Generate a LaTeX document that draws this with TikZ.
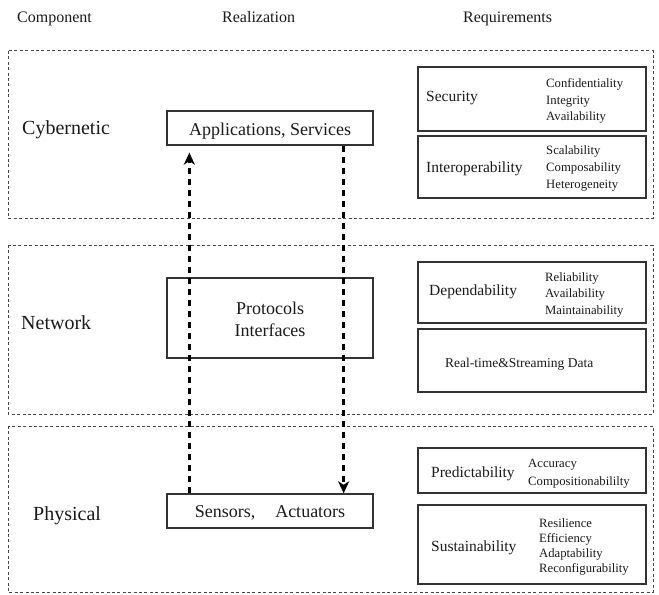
\documentclass[tikz,border=0pt]{standalone}
\usepackage{fontspec}
\setmainfont{Liberation Serif}
\usetikzlibrary{arrows.meta}
\definecolor{ink}{HTML}{1A1A1A}
\definecolor{rim}{HTML}{333333}
\begin{document}
\begin{tikzpicture}[x=1bp,y=-1bp,
  region/.style={draw=rim!90, line width=1bp, dash pattern=on 3bp off 2.4bp},
  box/.style={draw=rim, line width=1.3bp, rectangle, inner sep=0pt},
  reqbox/.style={box, minimum width=228bp},
  flow/.style={draw=black, line width=2.6bp, dash pattern=on 6bp off 5bp,
     -{Stealth[length=12bp,width=11bp,inset=3.5bp]}},
  txt/.style={anchor=base west, inner sep=0pt, text=ink},
  ctxt/.style={anchor=base, inner sep=0pt, text=ink, align=center},
  head/.style={txt, font=\fontsize{16bp}{19bp}\selectfont},
  layer/.style={txt, font=\fontsize{20bp}{24bp}\selectfont},
  real/.style={ctxt, font=\fontsize{18bp}{22bp}\selectfont},
  lab/.style={txt, font=\fontsize{15.5bp}{18bp}\selectfont},
  sub/.style={txt, font=\fontsize{12.7bp}{15bp}\selectfont}
]
\useasboundingbox (0,0) rectangle (659,595);

% headers
\node[head] (hcomp) at (17,23) {Component};
\node[head] (hreal) at (222,23) {Realization};
\node[head] (hreq)  at (463,23) {Requirements};

% layer regions
\draw[region] (8,51) rectangle (653,218);
\draw[region] (8,245) rectangle (653,414);
\draw[region] (8,426) rectangle (653,592);

% layer names
\node[layer] (lcyb) at (22,135) {Cybernetic};
\node[layer] (lnet) at (21,329) {Network};
\node[layer] (lphy) at (33,520) {Physical};

% realization boxes
\node[box, minimum width=206bp, minimum height=34bp] (apps) at (270,128) {};
\node[real] (appst) at (270,136) {Applications, Services};
\node[box, minimum width=206bp, minimum height=80bp] (proto) at (270,318) {};
\node[real] (protot1) at (270,314) {Protocols};
\node[real] (protot2) at (270,336) {Interfaces};
\node[box, minimum width=206bp, minimum height=34bp] (sensors) at (270,511) {};
\node[real] (sensorst) at (270,517) {Sensors,\hspace{20bp}Actuators};

% connectors
\draw[flow, shorten >=7bp] ([xshift=23bp]sensors.north west) -- ([xshift=23bp]apps.south west);
\draw[flow] ([xshift=-30bp]apps.south east) -- ([xshift=-30bp]sensors.north east);

% requirement boxes
\node[reqbox, minimum height=64bp] (sec) at (532,99) {};
\node[lab] at (426,102) {Security};
\foreach \t [count=\i] in {Confidentiality,Integrity,Availability}
  \node[sub] at (546,{88+16.5*(\i-1)}) {\t};

\node[reqbox, minimum height=62bp] (inter) at (532,167) {};
\node[lab] at (426,173) {Interoperability};
\foreach \t [count=\i] in {Scalability,Composability,Heterogeneity}
  \node[sub] at (546,{155+17*(\i-1)}) {\t};

\node[reqbox, minimum height=61bp] (dep) at (532,292.5) {};
\node[lab] at (429,295) {Dependability};
\foreach \t [count=\i] in {Reliability,Availability,Maintainability}
  \node[sub] at (545,{281+16.5*(\i-1)}) {\t};

\node[reqbox, minimum height=63bp] (rt) at (532,360.5) {};
\node[txt, font=\fontsize{13.5bp}{16bp}\selectfont] at (445,367) {Real-time\&Streaming Data};

\node[reqbox, minimum height=45bp] (pred) at (532,470.5) {};
\node[lab] at (431,477) {Predictability};
\foreach \t [count=\i] in {Accuracy,Compositionabililty}
  \node[sub] at (528,{467+18*(\i-1)}) {\t};

\node[reqbox, minimum height=79bp] (sust) at (532,544.5) {};
\node[lab] at (431,551) {Sustainability};
\foreach \t [count=\i] in {Resilience,Efficiency,Adaptability,Reconfigurability}
  \node[sub] at (539,{527+15*(\i-1)}) {\t};

\end{tikzpicture}
\end{document}
